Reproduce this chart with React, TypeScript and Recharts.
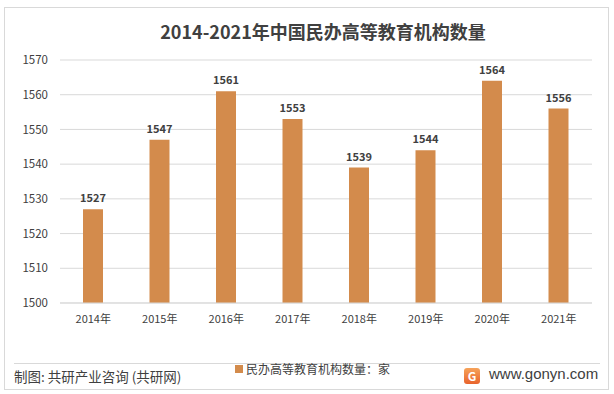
import { BarChart, Bar, XAxis, YAxis, CartesianGrid, LabelList } from 'recharts';

const years = ['2014年', '2015年', '2016年', '2017年', '2018年', '2019年', '2020年', '2021年'];
const counts = [1527, 1547, 1561, 1553, 1539, 1544, 1564, 1556];
const yTicks = [1500, 1510, 1520, 1530, 1540, 1550, 1560, 1570];

const data = years.map((year, i) => ({ year, value: counts[i] }));

const font = '"Noto Sans CJK SC", "Noto Sans", sans-serif';
const barColor = '#D38B4C';

export default function App() {
  return (
    <div style={{ position: 'absolute', left: 0, top: 0, width: 614, height: 394, background: '#fff', fontFamily: font }}>
      <div style={{ position: 'absolute', left: 4, top: 7, width: 603, height: 381, border: '1px solid #d9d9d9' }} />
      <div style={{ position: 'absolute', left: 16, top: 18, width: 614, textAlign: 'center', fontSize: 18, fontWeight: 'bold', color: '#404040' }}>
        2014-2021年中国民办高等教育机构数量
      </div>
      <div style={{ position: 'absolute', left: 0, top: 0 }}>
        <BarChart width={614} height={394} data={data} margin={{ top: 60, right: 22, bottom: 61, left: 0 }}>
          <CartesianGrid vertical={false} stroke="#d9d9d9" />
          <XAxis
            dataKey="year"
            height={30}
            axisLine={{ stroke: '#d9d9d9' }}
            tickLine={false}
            tick={{ fill: '#404040', fontSize: 11, fontFamily: font }}
            tickMargin={6}
          />
          <YAxis
            width={60}
            domain={[1500, 1570]}
            ticks={yTicks}
            axisLine={false}
            tickLine={false}
            tick={{ fill: '#404040', fontSize: 11.5, fontFamily: font }}
            tickMargin={6}
          />
          <Bar dataKey="value" fill={barColor} barSize={20} isAnimationActive={false}>
            <LabelList dataKey="value" position="top" offset={7} style={{ fill: '#404040', fontSize: 11, fontWeight: 'bold', fontFamily: font }} />
          </Bar>
        </BarChart>
      </div>
      <div style={{ position: 'absolute', left: 14, right: 14, top: 363, borderTop: '1px solid #d9d9d9' }} />
      <div style={{ position: 'absolute', left: 14, top: 366, fontSize: 13.5, color: '#404040' }}>制图: 共研产业咨询 (共研网)</div>
      <div style={{ position: 'absolute', left: 235, top: 360, fontSize: 12, color: '#404040', display: 'flex', alignItems: 'center' }}>
        <span style={{ display: 'inline-block', width: 8, height: 8, background: barColor, marginRight: 3 }} />
        民办高等教育机构数量：家
      </div>
      <div style={{ position: 'absolute', left: 464, top: 368, width: 16, height: 16, borderRadius: 3, background: 'linear-gradient(#f6a35a, #e8632c)', color: '#fff', fontSize: 12, fontWeight: 'bold', textAlign: 'center', lineHeight: '16px' }}>G</div>
      <div style={{ position: 'absolute', left: 489, top: 365, fontSize: 15, color: '#404040', fontFamily: '"Liberation Sans", Arial, sans-serif' }}>www.gonyn.com</div>
    </div>
  );
}
